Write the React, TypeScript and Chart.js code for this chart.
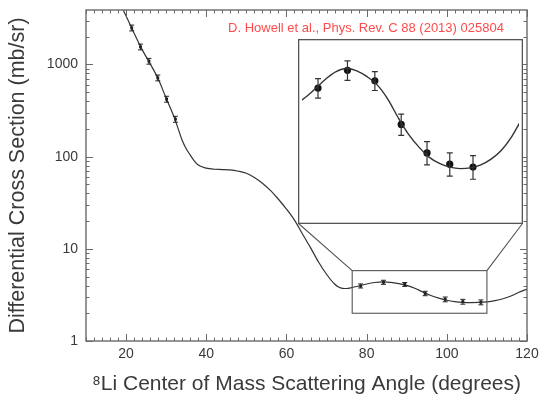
import React, { useEffect, useRef } from "react";
import { Chart, registerables } from "chart.js";

Chart.register(...registerables);

// ---- data ----
const angles = [21.4, 23.6, 25.7, 27.9, 30.1, 32.3, 78.5, 84.2, 89.5, 94.6, 99.6, 104.0, 108.5];
const crossSections = [2494, 1552, 1086, 716, 421, 255, 3.96, 4.34, 4.11, 3.28, 2.83, 2.67, 2.63];
const errors = [180, 112, 78, 52, 31, 19, 0.2, 0.22, 0.2, 0.18, 0.17, 0.16, 0.16];

const theoryAngles = [18, 20, 22, 24, 26, 28, 30, 32, 33, 34, 35, 36, 37, 38, 40, 42, 44, 46, 48, 50, 52, 54, 56, 58, 60, 62, 64, 66, 68, 70, 72, 73, 74, 75, 76, 78, 80, 82, 84, 86, 88, 90, 92, 94, 96, 98, 100, 102, 104, 106, 108, 110, 112, 114, 116, 118, 120];
const theoryValues = [5100, 3350, 2180, 1450, 1020, 700, 430, 268, 200, 150, 122, 104, 90, 81, 75, 73, 72.5, 71.8, 69.5, 66, 59.5, 51.5, 43, 34.5, 27, 20.5, 14.5, 10.3, 7.2, 5.3, 4.15, 3.86, 3.73, 3.71, 3.77, 3.95, 4.15, 4.31, 4.38, 4.33, 4.2, 4.02, 3.74, 3.4, 3.12, 2.92, 2.77, 2.68, 2.63, 2.61, 2.62, 2.66, 2.74, 2.87, 3.08, 3.38, 3.66];

const xTickValues = [20, 40, 60, 80, 100, 120];
const yTickValues = [1, 10, 100, 1000];
const xRange = [10, 120];
const yRange = [1, 3900];
const xMinorStep = 2;

const zoomAngles = [76.4, 110.0];
const zoomValues = [2.0, 5.8];
const insetAngleRange = [75.4, 117.4];
const insetValueRange = [2.0, 5.0];
const insetFirstAngle = 75;

const citation = "D. Howell et al., Phys. Rev. C 88 (2013) 025804";
const xTitle = "\u2078Li Center of Mass Scattering Angle (degrees)";
const yTitle = "Differential Cross Section (mb/sr)";

// ---- layout / style ----
const W = 542;
const H = 394;
const INSET = { left: 298, top: 39, width: 225, height: 185 };
const FONT = "'Liberation Sans', Arial, Helvetica, sans-serif";
const TEXT = "#3a3a3a";
const FRAME = "#6a6a6a";
const CURVE = "#333333";

const errorBarPlugin = {
  id: "errorBars",
  afterDatasetsDraw(chart: any) {
    const { ctx } = chart;
    const x = chart.scales.x;
    const y = chart.scales.y;
    chart.data.datasets.forEach((ds: any) => {
      if (!ds.errors) return;
      ctx.save();
      ctx.strokeStyle = ds.errorColor || "#222";
      ctx.lineWidth = ds.errorWidth || 1;
      const cap = ds.capHalf || 2.5;
      ctx.beginPath();
      ds.data.forEach((p: any, j: number) => {
        const e = ds.errors[j];
        const px = x.getPixelForValue(p.x);
        const top = y.getPixelForValue(p.y + e);
        const bot = y.getPixelForValue(p.y - e);
        ctx.moveTo(px, top);
        ctx.lineTo(px, bot);
        ctx.moveTo(px - cap, top);
        ctx.lineTo(px + cap, top);
        ctx.moveTo(px - cap, bot);
        ctx.lineTo(px + cap, bot);
      });
      ctx.stroke();
      ctx.restore();
    });
  },
};

const framePlugin = {
  id: "frameTicks",
  afterDraw(chart: any) {
    const { ctx, chartArea: a } = chart;
    const x = chart.scales.x;
    const y = chart.scales.y;
    ctx.save();
    ctx.strokeStyle = FRAME;
    ctx.lineWidth = 1;
    ctx.beginPath();
    for (let v = xRange[0]; v <= xRange[1]; v += xMinorStep) {
      const px = Math.round(x.getPixelForValue(v)) + 0.5;
      const len = xTickValues.includes(v) ? 7 : 3.5;
      ctx.moveTo(px, a.bottom);
      ctx.lineTo(px, a.bottom - len);
      ctx.moveTo(px, a.top);
      ctx.lineTo(px, a.top + len);
    }
    for (let d = yRange[0]; d <= yRange[1]; d *= 10) {
      for (let m = 1; m <= 9; m++) {
        const v = m * d;
        if (v > yRange[1]) break;
        const py = Math.round(y.getPixelForValue(v)) + 0.5;
        const len = m === 1 ? 7 : 3.5;
        ctx.moveTo(a.left, py);
        ctx.lineTo(a.left + len, py);
        ctx.moveTo(a.right, py);
        ctx.lineTo(a.right - len, py);
      }
    }
    ctx.stroke();
    ctx.lineWidth = 1.4;
    ctx.strokeRect(a.left, a.top, a.right - a.left, a.bottom - a.top);

    // zoom box and connectors
    const bx0 = x.getPixelForValue(zoomAngles[0]);
    const bx1 = x.getPixelForValue(zoomAngles[1]);
    const by0 = y.getPixelForValue(zoomValues[1]);
    const by1 = y.getPixelForValue(zoomValues[0]);
    ctx.strokeStyle = "#555";
    ctx.lineWidth = 1.1;
    ctx.strokeRect(bx0, by0, bx1 - bx0, by1 - by0);
    ctx.beginPath();
    ctx.moveTo(INSET.left + 0.5, INSET.top + INSET.height - 0.5);
    ctx.lineTo(bx0, by0);
    ctx.moveTo(INSET.left + INSET.width - 0.5, INSET.top + INSET.height - 0.5);
    ctx.lineTo(bx1, by0);
    ctx.stroke();

    // citation
    ctx.fillStyle = "#ff4b4b";
    ctx.font = `13px ${FONT}`;
    ctx.textAlign = "center";
    ctx.textBaseline = "middle";
    ctx.fillText(citation, 366, 28);
    ctx.restore();
  },
};

const insetPlugin = {
  id: "insetFrame",
  beforeDraw(chart: any) {
    const { ctx, width, height } = chart;
    ctx.save();
    ctx.fillStyle = "#ffffff";
    ctx.fillRect(0, 0, width, height);
    ctx.restore();
  },
  afterDraw(chart: any) {
    const { ctx, width, height } = chart;
    ctx.save();
    ctx.strokeStyle = "#555";
    ctx.lineWidth = 1.3;
    ctx.strokeRect(0.65, 0.65, width - 1.3, height - 1.3);
    ctx.restore();
  },
};

export default function App() {
  const mainRef = useRef<HTMLCanvasElement | null>(null);
  const insetRef = useRef<HTMLCanvasElement | null>(null);

  useEffect(() => {
    const theory = theoryAngles.map((a, i) => ({ x: a, y: theoryValues[i] }));
    const points = angles.map((a, i) => ({ x: a, y: crossSections[i] }));
    const insetIdx = angles.map((a, i) => i).filter((i) => angles[i] > insetFirstAngle);
    const insetPoints = insetIdx.map((i) => ({ x: angles[i], y: crossSections[i] }));
    const insetErrors = insetIdx.map((i) => errors[i]);

    const main = new Chart(mainRef.current as HTMLCanvasElement, {
      type: "scatter",
      data: {
        datasets: [
          {
            type: "line",
            data: theory,
            borderColor: CURVE,
            borderWidth: 1.2,
            pointRadius: 0,
            cubicInterpolationMode: "monotone",
            fill: false,
          } as any,
          {
            data: points,
            errors: errors,
            capHalf: 2.5,
            pointStyle: "rect",
            pointRadius: 2,
            backgroundColor: "#111",
            borderColor: "#111",
            borderWidth: 0,
          } as any,
        ],
      },
      options: {
        responsive: false,
        animation: false,
        devicePixelRatio: 1,
        layout: { padding: { top: 10, right: 15, left: 0, bottom: 0 } },
        plugins: { legend: { display: false }, tooltip: { enabled: false } },
        scales: {
          x: {
            type: "linear",
            min: xRange[0],
            max: xRange[1],
            grid: { display: false, drawTicks: false },
            border: { display: false },
            afterBuildTicks: (s: any) => {
              s.ticks = xTickValues.map((v) => ({ value: v }));
            },
            afterFit: (s: any) => {
              s.height = 53;
              s.paddingLeft = 0;
              s.paddingRight = 0;
            },
            ticks: {
              padding: 5,
              color: TEXT,
              font: { family: FONT, size: 14 },
              maxRotation: 0,
              autoSkip: false,
            },
            title: {
              display: true,
              text: xTitle,
              color: TEXT,
              font: { family: FONT, size: 21, lineHeight: 0.95 },
              padding: { top: 0, bottom: 0 },
            },
          },
          y: {
            type: "logarithmic",
            min: yRange[0],
            max: yRange[1],
            grid: { display: false, drawTicks: false },
            border: { display: false },
            afterBuildTicks: (s: any) => {
              s.ticks = yTickValues.map((v) => ({ value: v }));
            },
            afterFit: (s: any) => {
              s.width = 86;
              s.paddingTop = 0;
              s.paddingBottom = 0;
            },
            ticks: {
              padding: 8,
              color: TEXT,
              font: { family: FONT, size: 14 },
              callback: (v: any) => String(v),
            },
            title: {
              display: true,
              text: yTitle,
              color: TEXT,
              font: { family: FONT, size: 21.5, lineHeight: 1.2 },
              padding: { top: 5, bottom: 0 },
            },
          },
        },
      } as any,
      plugins: [errorBarPlugin, framePlugin],
    });

    const inset = new Chart(insetRef.current as HTMLCanvasElement, {
      type: "scatter",
      data: {
        datasets: [
          {
            type: "line",
            data: theory,
            borderColor: CURVE,
            borderWidth: 1.4,
            pointRadius: 0,
            cubicInterpolationMode: "monotone",
            fill: false,
          } as any,
          {
            data: insetPoints,
            errors: insetErrors,
            capHalf: 3,
            errorWidth: 1.2,
            errorColor: "#333",
            pointStyle: "circle",
            pointRadius: 3.6,
            backgroundColor: "#111",
            borderColor: "#111",
            borderWidth: 0,
          } as any,
        ],
      },
      options: {
        responsive: false,
        animation: false,
        devicePixelRatio: 1,
        layout: { padding: 0 },
        plugins: { legend: { display: false }, tooltip: { enabled: false } },
        scales: {
          x: { type: "linear", min: insetAngleRange[0], max: insetAngleRange[1], display: false },
          y: { type: "logarithmic", min: insetValueRange[0], max: insetValueRange[1], display: false },
        },
      } as any,
      plugins: [insetPlugin, errorBarPlugin],
    });

    return () => {
      main.destroy();
      inset.destroy();
    };
  }, []);

  return (
    <div style={{ position: "absolute", left: 0, top: 0, width: W, height: H, background: "#fff" }}>
      <canvas ref={mainRef} width={W} height={H} style={{ position: "absolute", left: 0, top: 0, width: W, height: H }} />
      <canvas
        ref={insetRef}
        width={INSET.width}
        height={INSET.height}
        style={{ position: "absolute", left: INSET.left, top: INSET.top, width: INSET.width, height: INSET.height }}
      />
    </div>
  );
}
